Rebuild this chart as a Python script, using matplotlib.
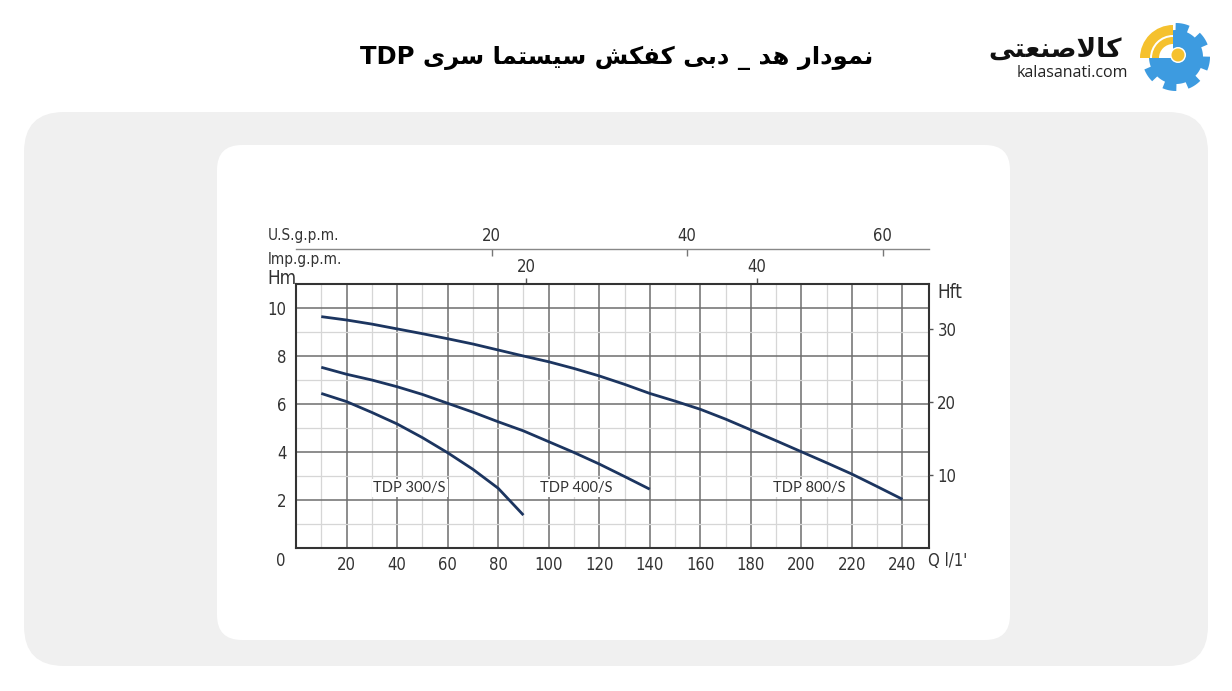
import numpy as np
import matplotlib.pyplot as plt
import matplotlib.font_manager as fm
from matplotlib.patches import FancyBboxPatch, Wedge, Circle, Polygon

# داده های منحنی ها (Q به لیتر در دقیقه، H به متر)
q300 = [10, 20, 30, 40, 50, 60, 70, 80, 90]
h300 = [6.44, 6.10, 5.65, 5.17, 4.60, 3.97, 3.28, 2.49, 1.37]

q400 = [10, 20, 30, 40, 50, 60, 70, 80, 90, 100, 110, 120, 130, 140]
h400 = [7.53, 7.24, 7.00, 6.72, 6.40, 6.03, 5.66, 5.26, 4.88, 4.43, 3.98, 3.50, 2.98, 2.45]

q800 = [10, 20, 30, 40, 50, 60, 70, 80, 90, 100, 110, 120, 130, 140, 150, 160,
        170, 180, 190, 200, 210, 220, 230, 240]
h800 = [9.64, 9.50, 9.33, 9.13, 8.93, 8.72, 8.50, 8.25, 8.00, 7.76, 7.48, 7.17,
        6.82, 6.44, 6.12, 5.78, 5.37, 4.92, 4.47, 4.01, 3.55, 3.08, 2.56, 2.03]

models = ['TDP 300/S', 'TDP 400/S', 'TDP 800/S']
label_q = [45, 111, 203]
label_h = [2.5, 2.5, 2.5]

x_ticks = list(range(20, 241, 20))
y_ticks = [2, 4, 6, 8, 10]
ft_ticks = [10, 20, 30]
usgpm_ticks = [20, 40, 60]
impgpm_ticks = [20, 40]

# ضریب های تبدیل که از تصویر خوانده شده
US_F = 3.87
IMP_F = 4.56
FT = 0.3048

# فونت باریک برای اعداد
names = {f.name for f in fm.fontManager.ttflist}
if 'Liberation Sans Narrow' in names:
    num_font = dict(family='Liberation Sans Narrow')
else:
    p = fm.findfont(fm.FontProperties(family='DejaVu Sans', stretch='condensed'))
    if 'Condensed' in p:
        num_font = dict(family='DejaVu Sans', stretch='condensed')
    else:
        num_font = dict(family='DejaVu Sans')


def fa_visual(text):
    # شکل دهی ساده حروف فارسی با Presentation Forms و برعکس کردن ترتیب
    forms = {
        'ا': (0xFE8D, 0xFE8E, None, None), 'ب': (0xFE8F, 0xFE90, 0xFE91, 0xFE92),
        'ت': (0xFE95, 0xFE96, 0xFE97, 0xFE98), 'د': (0xFEA9, 0xFEAA, None, None),
        'ر': (0xFEAD, 0xFEAE, None, None), 'س': (0xFEB1, 0xFEB2, 0xFEB3, 0xFEB4),
        'ش': (0xFEB5, 0xFEB6, 0xFEB7, 0xFEB8), 'ص': (0xFEB9, 0xFEBA, 0xFEBB, 0xFEBC),
        'ع': (0xFEC9, 0xFECA, 0xFECB, 0xFECC), 'ف': (0xFED1, 0xFED2, 0xFED3, 0xFED4),
        'ک': (0xFED9, 0xFEDA, 0xFEDB, 0xFEDC), 'ل': (0xFEDD, 0xFEDE, 0xFEDF, 0xFEE0),
        'م': (0xFEE1, 0xFEE2, 0xFEE3, 0xFEE4), 'ن': (0xFEE5, 0xFEE6, 0xFEE7, 0xFEE8),
        'ه': (0xFEE9, 0xFEEA, 0xFEEB, 0xFEEC), 'و': (0xFEED, 0xFEEE, None, None),
        'ی': (0xFEEF, 0xFEF0, 0xFEF3, 0xFEF4),
    }
    out = []
    i = 0
    n = len(text)
    while i < n:
        c = text[i]
        if c not in forms:
            out.append(c)
            i += 1
            continue
        prev = text[i - 1] if i > 0 else None
        jp = prev in forms and forms[prev][2] is not None
        if c == 'ل' and i + 1 < n and text[i + 1] == 'ا':
            out.append(chr(0xFEFC if jp else 0xFEFB))
            i += 2
            continue
        nxt = text[i + 1] if i + 1 < n else None
        jn = nxt in forms and forms[c][2] is not None
        iso, fin, ini, med = forms[c]
        if jp and jn:
            g = med
        elif jp:
            g = fin
        elif jn:
            g = ini
        else:
            g = iso
        out.append(chr(g))
        i += 1
    return ''.join(reversed(out))


W, H = 1232, 691
fig = plt.figure(figsize=(W / 100, H / 100), dpi=100)

bg = fig.add_axes([0, 0, 1, 1])
bg.set_xlim(0, W)
bg.set_ylim(H, 0)
bg.axis('off')
bg.add_patch(FancyBboxPatch((24, 112), 1184, 554, boxstyle='round,pad=0,rounding_size=40',
                            fc='#f0f0f0', ec='none'))
bg.add_patch(FancyBboxPatch((217, 145), 793, 495, boxstyle='round,pad=0,rounding_size=25',
                            fc='white', ec='none'))

# عنوان
bg.text(617, 58, 'TDP ' + fa_visual('نمودار هد _ دبی کفکش سیستما سری'),
        ha='center', va='center', fontsize=17.5, fontweight='bold',
        family=['DejaVu Sans'], color='black')

# لوگو
bg.text(1055, 50, fa_visual('کالاصنعتی'), ha='center', va='center', fontsize=19,
        fontweight='bold', family=['DejaVu Sans'], color='#111111')
bg.text(1072, 73, 'kalasanati.com', ha='center', va='center', fontsize=11.5,
        family=['Open Sans', 'DejaVu Sans'], color='#222222')
cx, cy = 1176, 57
ang = np.linspace(0, 2 * np.pi, 721)
rad = np.where(np.cos(8 * (ang - 0.2)) > -0.15, 34, 27)
bg.add_patch(Polygon(np.c_[cx + rad * np.cos(ang), cy + rad * np.sin(ang)],
                     closed=True, fc='#3d9be0', ec='none'))
bg.add_patch(Wedge((cx - 3, cy + 1), 37, 180, 270, fc='white', ec='none'))
bg.add_patch(Wedge((cx - 3, cy + 1), 33, 180, 270, width=10, fc='#f5c12e', ec='none'))
bg.add_patch(Wedge((cx - 3, cy + 1), 21, 180, 270, width=7, fc='#f5c12e', ec='none'))
bg.add_patch(Circle((cx + 2, cy - 2), 8, fc='white', ec='none'))
bg.add_patch(Circle((cx + 2, cy - 2), 6.5, fc='#f5c12e', ec='none'))

# نمودار اصلی
ax = fig.add_axes([296 / W, 1 - 548 / H, (929 - 296) / W, (548 - 284) / H])
ax.set_facecolor('none')
ax.set_xlim(0, 250.5)
ax.set_ylim(0, 11)
ax.set_xticks(x_ticks)
ax.set_xticks(range(10, 250, 10), minor=True)
ax.set_yticks(y_ticks)
ax.set_yticks(range(1, 11), minor=True)
ax.grid(which='minor', color='#d6d6d6', lw=0.9)
ax.grid(which='major', color='#6e6e6e', lw=1.1)
ax.set_axisbelow(True)
ax.tick_params(which='both', length=0)
ax.tick_params(axis='y', pad=7, labelsize=12, labelcolor='#333333')
ax.tick_params(axis='x', pad=6, labelsize=12, labelcolor='#333333')
for lab in ax.get_xticklabels() + ax.get_yticklabels():
    lab.set(**num_font)
for s in ax.spines.values():
    s.set_color('#333333')
    s.set_linewidth(1.5)

for q, h in [(q300, h300), (q400, h400), (q800, h800)]:
    ax.plot(q, h, color='#1c3560', lw=2.0, solid_capstyle='butt', zorder=3)

for m, lq, lh in zip(models, label_q, label_h):
    ax.text(lq, lh, m, ha='center', va='center', fontsize=10.5, color='#333333',
            family=['Lato', 'DejaVu Sans'], zorder=4,
            bbox=dict(fc='white', ec='none', pad=1.2))

# محور فوت در راست
axr = ax.twinx()
axr.set_ylim(0, 11 / FT)
axr.set_yticks(ft_ticks)
axr.tick_params(axis='y', direction='out', length=3, width=1, color='#555555',
                pad=3, labelsize=12, labelcolor='#333333')
for lab in axr.get_yticklabels():
    lab.set(**num_font)
for s in axr.spines.values():
    s.set_visible(False)

# محورهای گالن در بالا
us = ax.secondary_xaxis((548 - 249) / 264, functions=(lambda q: q / US_F, lambda g: g * US_F))
us.set_xticks(usgpm_ticks)
us.tick_params(direction='in', length=5, width=1, color='#777777', pad=3,
               labelsize=12, labelcolor='#333333')
for lab in us.get_xticklabels():
    lab.set(**num_font)
for s in us.spines.values():
    s.set_color('#888888')
    s.set_linewidth(1.0)

imp = ax.secondary_xaxis('top', functions=(lambda q: q / IMP_F, lambda g: g * IMP_F))
imp.set_xticks(impgpm_ticks)
imp.tick_params(direction='out', length=4, width=1, color='#555555', pad=2,
                labelsize=12, labelcolor='#333333')
for lab in imp.get_xticklabels():
    lab.set(**num_font)
for s in imp.spines.values():
    s.set_visible(False)

# برچسب های محور
txt = dict(color='#333333', **num_font)
bg.text(268, 235, 'U.S.g.p.m.', ha='left', va='center', fontsize=11, **txt)
bg.text(268, 259, 'lmp.g.p.m.', ha='left', va='center', fontsize=11, **txt)
bg.text(267, 278, 'Hm', ha='left', va='center', fontsize=13.5, **txt)
bg.text(937, 292, 'Hft', ha='left', va='center', fontsize=13.5, **txt)
bg.text(281, 561, '0', ha='center', va='center', fontsize=12, **txt)
bg.text(928, 561, "Q l/1'", ha='left', va='center', fontsize=12, **txt)

fig.savefig('out.png', dpi=100)
